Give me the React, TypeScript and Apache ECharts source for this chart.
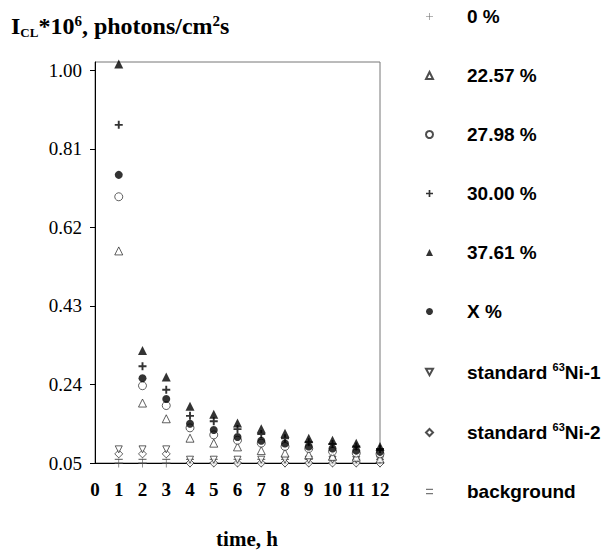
import React, { useEffect, useRef } from "react";
import * as echarts from "echarts";

const times = [1, 2, 3, 4, 5, 6, 7, 8, 9, 10, 11, 12];
const s0 = [0.05, 0.05, 0.05, 0.05, 0.05, 0.05, 0.05, 0.05, 0.05, 0.05, 0.05, 0.05];
const s2257 = [0.563, 0.195, 0.157, 0.11, 0.098, 0.089, 0.08, 0.074, 0.07, 0.066, 0.064, 0.06];
const s2798 = [0.694, 0.237, 0.189, 0.135, 0.118, 0.105, 0.098, 0.09, 0.085, 0.078, 0.074, 0.072];
const s3000 = [0.868, 0.284, 0.227, 0.164, 0.151, 0.132, 0.12, 0.11, 0.1, 0.096, 0.09, 0.084];
const s3761 = [1.015, 0.322, 0.258, 0.187, 0.168, 0.147, 0.133, 0.122, 0.11, 0.105, 0.098, 0.09];
const sX = [0.747, 0.255, 0.205, 0.145, 0.13, 0.113, 0.104, 0.097, 0.09, 0.085, 0.08, 0.077];
const sNi1 = [0.083, 0.083, 0.083, 0.058, 0.058, 0.058, 0.058, 0.058, 0.058, 0.058, 0.058, 0.058];
const sNi2 = [0.072, 0.072, 0.072, 0.05, 0.05, 0.05, 0.05, 0.05, 0.05, 0.05, 0.05, 0.05];
const sBg = [0.054, 0.054, 0.054, 0.054, 0.054, 0.054, 0.054, 0.054, 0.054, 0.054, 0.054, 0.054];
const yTicks = [0.05, 0.24, 0.43, 0.62, 0.81, 1.0];
const xTicks = [0, 1, 2, 3, 4, 5, 6, 7, 8, 9, 10, 11, 12];

const PLUS_THIN = "path://M4.6,0H5.4V4.6H10V5.4H5.4V10H4.6V5.4H0V4.6H4.6Z";
const PLUS_BOLD = "path://M3.8,0H6.2V3.8H10V6.2H6.2V10H3.8V6.2H0V3.8H3.8Z";
const TRI_DOWN = "path://M0,0L10,0L5,9Z";
const BG_SYM = "path://M0,0H10V1.8H0Z M0,6H10V7.8H0Z";

const pairs = (ys: number[]) => times.map((t, i) => [t, ys[i]]);

const hollow = { color: "#fff", borderColor: "#222", borderWidth: 0.9 };
const solid = { color: "#000" };

const legendLabels: Record<string, string> = {
  "0 %": "{g|}{b|0 %}",
  "22.57 %": "{g|}{b|22.57 %}",
  "27.98 %": "{g|}{b|27.98 %}",
  "30.00 %": "{g|}{b|30.00 %}",
  "37.61 %": "{g|}{b|37.61 %}",
  "X %": "{g|}{b|X %}",
  "standard 63Ni-1": "{g|}{b|standard }{sup|63}{b|Ni-1}",
  "standard 63Ni-2": "{g|}{b|standard }{sup|63}{b|Ni-2}",
  background: "{g|}{b|background}",
};

export default function App() {
  const ref = useRef<HTMLDivElement>(null);
  useEffect(() => {
    if (!ref.current) return;
    const chart = echarts.init(ref.current, null, { renderer: "svg" });
    const serif = "Liberation Serif";
    const sans = "Liberation Sans";
    chart.setOption({
      animation: false,
      backgroundColor: "#fff",
      grid: {
        left: 95,
        right: 230,
        top: 62,
        bottom: 89,
        show: true,
        borderColor: "#777",
        borderWidth: 1,
      },
      xAxis: {
        type: "value",
        min: 0,
        max: 12,
        interval: 1,
        axisLine: { lineStyle: { color: "#000", width: 1 } },
        axisTick: { show: false },
        splitLine: { show: false },
        axisLabel: {
          customValues: xTicks,
          margin: 17,
          color: "#000",
          fontFamily: serif,
          fontWeight: "bold",
          fontSize: 19,
        },
      },
      yAxis: {
        type: "value",
        min: 0.05,
        max: 1.02,
        axisLine: { show: true, lineStyle: { color: "#000", width: 1 } },
        axisTick: { show: true, length: 5, customValues: yTicks, lineStyle: { color: "#000" } },
        splitLine: { show: false },
        axisLabel: {
          customValues: yTicks,
          margin: 13,
          color: "#000",
          fontFamily: serif,
          fontSize: 19,
          formatter: (v: number) => v.toFixed(2),
        },
      },
      legend: {
        orient: "vertical",
        left: 425,
        top: 7,
        padding: 0,
        itemGap: 40,
        itemWidth: 7,
        itemHeight: 7,
        selectedMode: false,
        formatter: (name: string) => legendLabels[name] || name,
        textStyle: {
          rich: {
            g: { width: 29, lineHeight: 22, fontSize: 19 },
            b: { fontFamily: sans, fontWeight: "bold", fontSize: 19, lineHeight: 22, color: "#000" },
            sup: {
              fontFamily: sans,
              fontWeight: "bold",
              fontSize: 11,
              lineHeight: 12,
              verticalAlign: "top",
              color: "#000",
            },
          },
        },
        data: [
          "0 %",
          "22.57 %",
          "27.98 %",
          "30.00 %",
          "37.61 %",
          "X %",
          "standard 63Ni-1",
          "standard 63Ni-2",
          "background",
        ],
      },
      graphic: [
        {
          type: "text",
          left: 11,
          top: 13,
          style: {
            text: "{m|I}{s|CL}{m|*10}{p|6}{m|, photons/cm}{p|2}{m|s}",
            rich: {
              m: { fontFamily: serif, fontWeight: "bold", fontSize: 24, lineHeight: 26, fill: "#000" },
              s: {
                fontFamily: serif,
                fontWeight: "bold",
                fontSize: 13,
                lineHeight: 18,
                verticalAlign: "bottom",
                fill: "#000",
              },
              p: {
                fontFamily: serif,
                fontWeight: "bold",
                fontSize: 15,
                lineHeight: 14,
                verticalAlign: "top",
                fill: "#000",
              },
            },
          },
        },
        {
          type: "text",
          x: 247,
          y: 539,
          style: {
            text: "time, h",
            fontFamily: serif,
            fontWeight: "bold",
            fontSize: 21,
            fill: "#000",
            align: "center",
            verticalAlign: "middle",
          },
        },
      ],
      series: [
        { name: "0 %", type: "scatter", data: pairs(s0), symbol: PLUS_THIN, symbolSize: 9, itemStyle: { color: "#444" } },
        { name: "background", type: "scatter", data: pairs(sBg), symbol: BG_SYM, symbolSize: [8, 5], itemStyle: { color: "#555" } },
        { name: "standard 63Ni-2", type: "scatter", data: pairs(sNi2), symbol: "diamond", symbolSize: 8, itemStyle: hollow },
        { name: "standard 63Ni-1", type: "scatter", data: pairs(sNi1), symbol: TRI_DOWN, symbolSize: 7, itemStyle: hollow },
        { name: "22.57 %", type: "scatter", data: pairs(s2257), symbol: "triangle", symbolSize: 8, itemStyle: hollow },
        { name: "27.98 %", type: "scatter", data: pairs(s2798), symbol: "circle", symbolSize: 8, itemStyle: hollow },
        { name: "X %", type: "scatter", data: pairs(sX), symbol: "circle", symbolSize: 8, itemStyle: solid },
        { name: "30.00 %", type: "scatter", data: pairs(s3000), symbol: PLUS_BOLD, symbolSize: 8, itemStyle: solid },
        { name: "37.61 %", type: "scatter", data: pairs(s3761), symbol: "triangle", symbolSize: 9, itemStyle: solid, clip: false },
      ],
    });
    return () => chart.dispose();
  }, []);
  return (
    <div
      ref={ref}
      style={{ position: "absolute", left: 0, top: 0, width: 610, height: 552 }}
    />
  );
}
